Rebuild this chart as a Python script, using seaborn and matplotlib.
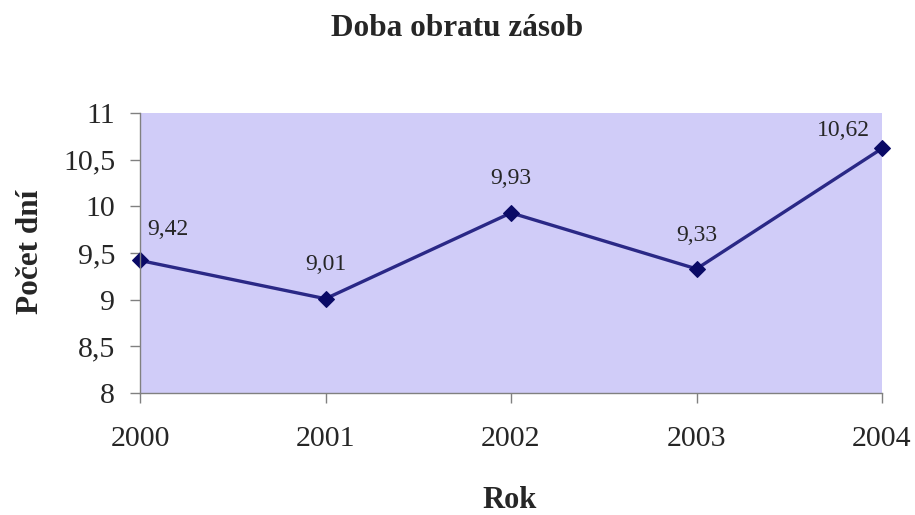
import matplotlib
matplotlib.use("Agg")
import matplotlib.pyplot as plt
import seaborn as sns
import pandas as pd

years = [2000, 2001, 2002, 2003, 2004]
days = [9.42, 9.01, 9.93, 9.33, 10.62]
labels = ["9,42", "9,01", "9,93", "9,33", "10,62"]
yticks = [8, 8.5, 9, 9.5, 10, 10.5, 11]
yticklabels = ["8", "8,5", "9", "9,5", "10", "10,5", "11"]

sns.set_style("white")
plt.rcParams['font.family'] = ['Liberation Serif', 'DejaVu Serif']

df = pd.DataFrame({"Rok": years, "Dni": days})

fig = plt.figure(figsize=(9.15, 5.15), dpi=100)
ax = fig.add_axes([140/915, 1-393/515, (882-140)/915, (393-113)/515])
ax.set_facecolor("#D0CCF8")

sns.lineplot(data=df, x="Rok", y="Dni", ax=ax, color="#2A2886", linewidth=2.4,
             marker="D", markersize=8.5, markeredgecolor="#0A0A66",
             markerfacecolor="#0A0A66", clip_on=False)

ax.set_xlim(2000, 2004)
ax.set_ylim(8, 11)
ax.set_xticks(years)
ax.set_xticklabels([str(y) for y in years], fontsize=21.5)
ax.set_yticks(yticks)
ax.set_yticklabels(yticklabels, fontsize=21.5)
ax.tick_params(axis="both", direction="out", length=7, width=1, color="#808080",
               left=True, bottom=True)
ax.tick_params(axis="y", pad=11)
ax.tick_params(axis="x", pad=17)
for s in ["top", "right"]:
    ax.spines[s].set_visible(False)
for s in ["left", "bottom"]:
    ax.spines[s].set_color("#808080")
    ax.spines[s].set_linewidth(1)

offsets = [(20, 22), (0, 25), (0, 25), (0, 24), (-28, 13)]
for x, y, t, (dx, dy) in zip(years, days, labels, offsets):
    ax.annotate(t, (x, y), xytext=(dx, dy), textcoords="offset points",
                ha="center", va="center", fontsize=17, clip_on=False)

ax.set_xlabel("")
ax.set_ylabel("")
fig.text(510/915, 1-500/515, "Rok", ha="center", va="center",
         fontsize=22, fontweight="bold")
fig.text(30/915, 1-252/515, "Počet dní", ha="center", va="center",
         fontsize=22.5, fontweight="bold", rotation=90)
fig.text(457/915, 1-28/515, "Doba obratu zásob", ha="center", va="center",
         fontsize=22.5, fontweight="bold")

fig.savefig("out.png", dpi=100)
